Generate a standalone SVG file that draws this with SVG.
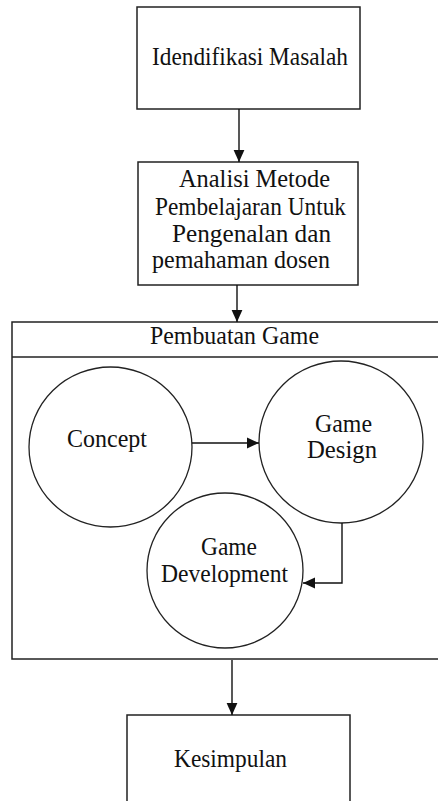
<svg xmlns="http://www.w3.org/2000/svg" width="438" height="801" viewBox="0 0 438 801">
<style>
.box{fill:#fff;stroke:#222;stroke-width:1.5}
.circ{fill:#fff;stroke:#222;stroke-width:1.3}
.conn{fill:none;stroke:#111;stroke-width:1.4}
text{font-family:"Liberation Serif","Times New Roman",serif;font-size:24.5px;fill:#111}
</style>
<defs>
<marker id="ah" markerUnits="userSpaceOnUse" markerWidth="12" markerHeight="12" viewBox="0 0 10 10" refX="10" refY="5" orient="auto">
<path d="M0,0.5 L10,5 L0,9.5 Z" fill="#111"/>
</marker>
</defs>
<rect width="438" height="801" fill="#fff"/>
<g id="identifikasi">
<rect class="box" x="137" y="7" width="223" height="102"/>
<text x="152" y="65" textLength="196" lengthAdjust="spacingAndGlyphs">Idendifikasi Masalah</text>
</g>
<g id="analisi">
<rect class="box" x="138" y="162" width="220" height="123"/>
<text x="179" y="187" textLength="151" lengthAdjust="spacingAndGlyphs">Analisi Metode</text>
<text x="155" y="215" textLength="191" lengthAdjust="spacingAndGlyphs">Pembelajaran Untuk</text>
<text x="172" y="242" textLength="159" lengthAdjust="spacingAndGlyphs">Pengenalan dan</text>
<text x="152" y="268" textLength="178" lengthAdjust="spacingAndGlyphs">pemahaman dosen</text>
</g>
<g id="pembuatan">
<rect class="box" x="12" y="322" width="440" height="337"/>
<line class="box" x1="12" y1="357" x2="440" y2="357"/>
<text x="150" y="344" textLength="169" lengthAdjust="spacingAndGlyphs">Pembuatan Game</text>
</g>
<g id="concept">
<ellipse class="circ" cx="110.5" cy="447" rx="81.5" ry="80"/>
<text x="67" y="447" textLength="80" lengthAdjust="spacingAndGlyphs">Concept</text>
</g>
<g id="gamedesign">
<ellipse class="circ" cx="341" cy="442" rx="82" ry="81"/>
<text x="315" y="432" textLength="57" lengthAdjust="spacingAndGlyphs">Game</text>
<text x="307" y="458" textLength="70" lengthAdjust="spacingAndGlyphs">Design</text>
</g>
<g id="gamedevelopment">
<ellipse class="circ" cx="225" cy="570.5" rx="78" ry="77.5"/>
<text x="201" y="555" textLength="56" lengthAdjust="spacingAndGlyphs">Game</text>
<text x="161" y="582" textLength="127" lengthAdjust="spacingAndGlyphs">Development</text>
</g>
<g id="kesimpulan">
<rect class="box" x="127" y="715" width="223" height="100"/>
<text x="174" y="767" textLength="113" lengthAdjust="spacingAndGlyphs">Kesimpulan</text>
</g>
<g id="connectors">
<line class="conn" x1="239" y1="109" x2="239" y2="162" marker-end="url(#ah)"/>
<line class="conn" x1="237" y1="285" x2="237" y2="322" marker-end="url(#ah)"/>
<line class="conn" x1="192" y1="443" x2="259" y2="443" marker-end="url(#ah)"/>
<polyline class="conn" points="342,523 342,583 303,583" marker-end="url(#ah)"/>
<line class="conn" x1="232" y1="660" x2="232" y2="715" marker-end="url(#ah)"/>
</g>
</svg>
